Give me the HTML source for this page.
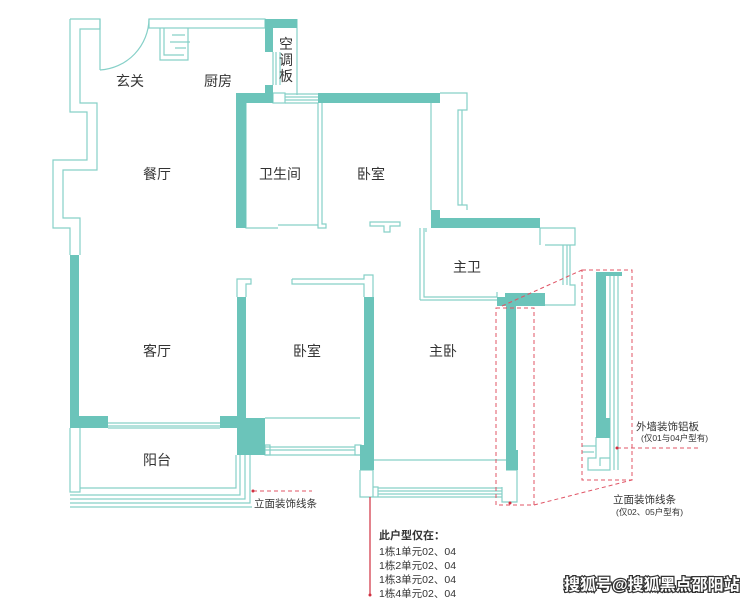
<!DOCTYPE html>
<html><head><meta charset="utf-8"><style>
html,body{margin:0;padding:0;background:#fff;width:740px;height:598px;overflow:hidden}
svg{display:block}
text{font-family:"Liberation Sans","Noto Sans CJK SC",sans-serif;fill:#333}
</style></head><body>
<svg width="740" height="598" viewBox="0 0 740 598" xmlns="http://www.w3.org/2000/svg">
<g fill="none" stroke="#86d0c8" stroke-width="1.2">
 <!-- left outer jagged wall -->
 <path d="M70,19 H100 V29 H80 V103 H97 V170 H63 V218 H80 V255"/>
 <path d="M70,19 V112 H87 V160 H53 V228 H70 V255"/>
 <path d="M100,19 V70"/>
 <!-- door arc -->
 <path d="M100,70 A52,52 0 0 0 149,19"/>
 <!-- top wall -->
 <rect x="149" y="19" width="116" height="9"/>
 <!-- kitchen counter -->
 <path d="M160,28 V60 H188 V28 M164,28 V55 H184"/>
 <path d="M172,35 H185 M170,42 H190 M175,48 H186"/>
 <!-- aircon balcony -->
 <path d="M297,19 V95 M273,52 V85 M276,52 V85 M280,52 V85 M292,22 H297"/>
 <rect x="273" y="93" width="12" height="10"/>
 <path d="M285,94 H318 M285,97 H318 M285,100 H318 M285,103 H318"/>
 <!-- bathroom -->
 <path d="M246,103 V228 H278 M278,225 H318 V228 M318,103 V228 H326 V224 H322 V103"/>
 <!-- bedroom right -->
 <path d="M440,93 H467 V110 H458 V205 H467 V210 M431,103 V210 M458,110 V205 M462,110 V205"/>
 <path d="M370,222 H400 V226 H390 V232 H384 V226 H370 Z M420,228 V300 M426,228 V232"/>
 <!-- main bath -->
 <path d="M424,228 V297 H497 V292 M420,300 H497 M540,228 H575 V245 H570 V285 H575 V305 H545 M545,245 H570 M540,228 V245 M563,245 V285 M567,245 V285"/>
 <!-- bedroom2 -->
 <path d="M237,297 V279 H251 V284 H246 V297"/>
 <path d="M292,279 H364 V275 H373 V297 M292,279 V284 H364 V297"/>
 <!-- living/bottom -->
 <path d="M108,423 H220 M108,426 H220 M108,428 H220"/>
 <path d="M70,428 V492 H80 V428 M80,488 H236 V455 M70,495 H240 V455 M70,499 H245 V455 M70,503 H250 V455 M70,507 H252"/>
 <rect x="265" y="445" width="5" height="10"/><rect x="355" y="445" width="6" height="10"/>
 <path d="M265,447 H355 M265,450 H355 M265,455 H361 M265,418 H360"/>
 <!-- main bedroom bottom -->
 <path d="M360,470 H373 V497 H378 M360,470 V497 H378 V487 H373 M378,488 H502 M378,491 H502 M378,494 H502 M378,497 H502 M374,460 H506 M502,487 V502 H517 V470 H506"/>
 <!-- right detail -->
 <path d="M610,275 V470 H588 V458 H596 V437 M614,275 V470 M618,275 V470 M610,437 V458 H600 V466 M582,446 H596 M582,452 H594"/>
</g>
<g fill="#6bc4ba">
 <rect x="70" y="255" width="9" height="163"/>
 <rect x="70" y="416" width="38" height="12"/>
 <rect x="220" y="416" width="26" height="12"/>
 <rect x="237" y="418" width="28" height="37"/>
 <rect x="237" y="297" width="9" height="121"/>
 <rect x="265" y="19" width="32" height="9"/>
 <rect x="265" y="19" width="8" height="33"/>
 <rect x="265" y="85" width="8" height="18"/>
 <rect x="236" y="93" width="37" height="10"/>
 <rect x="236" y="93" width="10" height="135"/>
 <rect x="318" y="93" width="122" height="10"/>
 <rect x="431" y="210" width="9" height="18"/>
 <rect x="431" y="218" width="109" height="10"/>
 <rect x="505" y="293" width="40" height="13"/>
 <rect x="497" y="297" width="12" height="9"/>
 <rect x="506" y="306" width="10" height="144"/>
 <rect x="506" y="450" width="12" height="20"/>
 <rect x="364" y="297" width="10" height="173"/>
 <rect x="360" y="445" width="14" height="25"/>
 <rect x="596" y="272" width="26" height="4"/>
 <rect x="596" y="272" width="10" height="166"/>
 <rect x="596" y="418" width="14" height="20"/>
</g>
<g fill="none" stroke="#e05566" stroke-width="1" stroke-dasharray="4,3">
 <rect x="496" y="308" width="38" height="197"/>
 <rect x="582" y="270" width="50" height="210"/>
 <path d="M502,306 L582,270 M534,505 L632,480"/>
 <path d="M617,448 H700 M253,491 H312"/>
</g>
<path d="M370,497 V595" stroke="#d03040" stroke-width="1.2"/>
<g fill="#d03040"><circle cx="617" cy="448" r="1.5"/><circle cx="253" cy="491" r="1.5"/><circle cx="370" cy="595" r="1.5"/><circle cx="510" cy="503" r="1.5"/></g>
<g font-size="14">
 <text x="116" y="86">玄关</text>
 <text x="204" y="86">厨房</text>
 <text x="279" y="49">空</text><text x="279" y="65">调</text><text x="279" y="81">板</text>
 <text x="143" y="179">餐厅</text>
 <text x="259" y="179">卫生间</text>
 <text x="357" y="179">卧室</text>
 <text x="453" y="272">主卫</text>
 <text x="143" y="356">客厅</text>
 <text x="293" y="356">卧室</text>
 <text x="429" y="356">主卧</text>
 <text x="143" y="465">阳台</text>
</g>
<g font-size="10.5">
 <text x="636" y="430">外墙装饰铝板</text>
 <text x="613" y="503">立面装饰线条</text>
 <text x="254" y="507">立面装饰线条</text>
 <text x="379" y="539" font-weight="bold" font-size="11">此户型仅在：</text>
 <text x="379" y="555">1栋1单元02、04</text>
 <text x="379" y="569">1栋2单元02、04</text>
 <text x="379" y="583">1栋3单元02、04</text>
 <text x="379" y="597">1栋4单元02、04</text>
</g>
<g font-size="8.5" style="fill:#555">
 <text x="641" y="441" fill="#555">(仅01与04户型有)</text>
 <text x="616" y="515" fill="#555">(仅02、05户型有)</text>
</g>
<text x="564" y="590" font-size="16" font-weight="bold" style="fill:#fff;stroke:#333;stroke-width:2.5;paint-order:stroke">搜狐号@搜狐黑点邵阳站</text>
</svg>
</body></html>
